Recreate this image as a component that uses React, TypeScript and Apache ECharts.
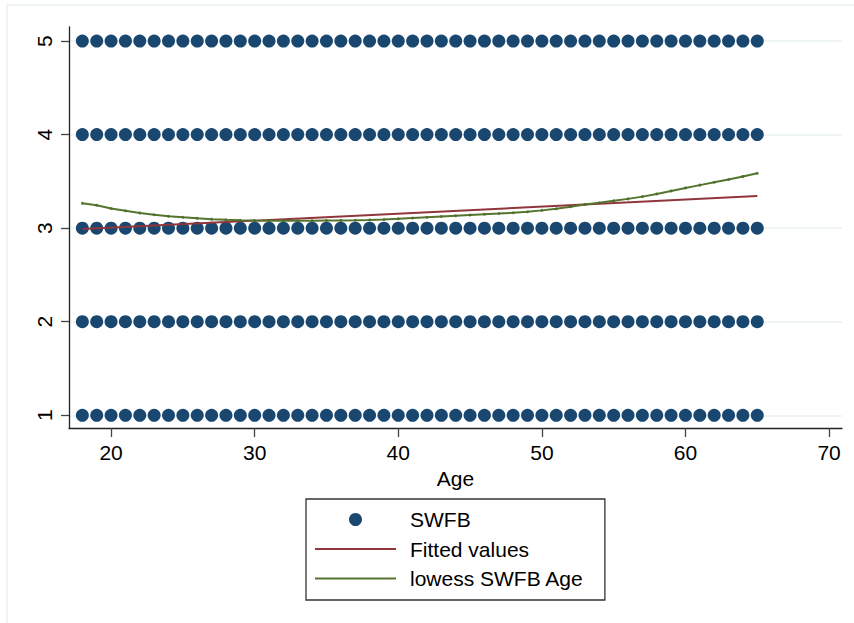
import React, { useEffect, useRef } from "react";
import * as echarts from "echarts";

// Respondent ages observed in the survey (one dot per age and SWFB level)
const ages = [
  18, 19, 20, 21, 22, 23, 24, 25, 26, 27, 28, 29, 30, 31, 32, 33, 34, 35, 36, 37, 38, 39, 40, 41,
  42, 43, 44, 45, 46, 47, 48, 49, 50, 51, 52, 53, 54, 55, 56, 57, 58, 59, 60, 61, 62, 63, 64, 65,
];
// SWFB response levels
const swfbLevels = [1, 2, 3, 4, 5];

// Linear fit endpoints (age, fitted SWFB)
const fittedAges = [18, 65];
const fittedValues = [2.99, 3.343];

// Lowess smooth of SWFB on Age, one value per age
const lowessValues = [
  3.265, 3.244, 3.21, 3.185, 3.163, 3.143, 3.128, 3.116, 3.105, 3.096, 3.089, 3.084, 3.081, 3.079,
  3.078, 3.078, 3.079, 3.081, 3.083, 3.085, 3.088, 3.093, 3.1, 3.108, 3.116, 3.124, 3.132, 3.14,
  3.148, 3.156, 3.165, 3.176, 3.19, 3.208, 3.229, 3.253, 3.272, 3.292, 3.313, 3.337, 3.366, 3.398,
  3.43, 3.46, 3.49, 3.52, 3.553, 3.586,
];

const xTicks = [20, 30, 40, 50, 60, 70];
const yTicks = [1, 2, 3, 4, 5];

const NAVY = "#1a476f";
const MAROON = "#90353b";
const GREEN = "#55752f";
const GRID = "#eaf2f3";
const FONT = "'Liberation Sans', Arial, sans-serif";
// Plain horizontal stroke used as the legend key for the two curves
const LINE_KEY = "path://M0,0 H81 V2 H0 Z";

export default function App() {
  const ref = useRef<HTMLDivElement>(null);

  useEffect(() => {
    if (!ref.current) return;
    const chart = echarts.init(ref.current, undefined, { renderer: "svg" });

    const scatterData: number[][] = [];
    swfbLevels.forEach((lv) => ages.forEach((a) => scatterData.push([a, lv])));
    const fittedData = fittedAges.map((a, i) => [a, fittedValues[i]]);
    const lowessData = ages.map((a, i) => [a, lowessValues[i]]);

    chart.setOption({
      animation: false,
      backgroundColor: "#ffffff",
      textStyle: { fontFamily: FONT },
      grid: { left: 69, top: 27, width: 773, height: 401, containLabel: false },
      xAxis: {
        type: "value",
        min: 17.07,
        max: 70.9,
        name: "Age",
        nameLocation: "middle",
        nameGap: 35,
        nameTextStyle: { fontFamily: FONT, fontSize: 21, color: "#000" },
        axisLine: { show: true, onZero: false, lineStyle: { color: "#222", width: 1.3 } },
        axisTick: {
          show: true,
          length: 9,
          customValues: xTicks,
          lineStyle: { color: "#444", width: 1.3 },
        },
        axisLabel: {
          customValues: xTicks,
          margin: 14,
          fontFamily: FONT,
          fontSize: 21,
          color: "#000",
        },
        splitLine: { show: false },
      },
      yAxis: {
        type: "value",
        min: 0.864,
        max: 5.15,
        axisLine: { show: true, onZero: false, lineStyle: { color: "#222", width: 1.3 } },
        axisTick: {
          show: true,
          length: 8,
          customValues: yTicks,
          lineStyle: { color: "#444", width: 1.3 },
        },
        axisLabel: {
          customValues: yTicks,
          rotate: 90,
          margin: 14,
          fontFamily: FONT,
          fontSize: 21,
          color: "#000",
        },
        splitLine: { show: true, lineStyle: { color: GRID, width: 1.5 } },
      },
      legend: {
        data: [
          { name: "SWFB", icon: "circle" },
          { name: "Fitted values", icon: LINE_KEY },
          { name: "lowess SWFB Age", icon: LINE_KEY },
        ],
        orient: "vertical",
        left: 306,
        top: 499,
        padding: [10, 21, 11, 9],
        itemWidth: 81,
        itemHeight: 13,
        itemGap: 8.5,
        borderColor: "#333",
        borderWidth: 1.3,
        borderRadius: 0,
        selectedMode: false,
        textStyle: {
          fontFamily: FONT,
          fontSize: 21,
          color: "#000",
          lineHeight: 20,
          padding: [0, 0, 0, 9],
        },
      },
      graphic: [
        {
          type: "rect",
          silent: true,
          z: -10,
          shape: { x: 7, y: 5, width: 900, height: 700 },
          style: { fill: "none", stroke: "#eef3f3", lineWidth: 2 },
        },
      ],
      series: [
        {
          name: "SWFB",
          type: "scatter",
          data: scatterData,
          symbol: "circle",
          symbolSize: 13,
          itemStyle: { color: NAVY, opacity: 1 },
          z: 2,
        },
        {
          name: "Fitted values",
          type: "line",
          data: fittedData,
          showSymbol: false,
          symbol: "none",
          lineStyle: { color: MAROON, width: 2 },
          itemStyle: { color: MAROON },
          z: 3,
        },
        {
          name: "lowess SWFB Age",
          type: "line",
          data: lowessData,
          showSymbol: false,
          symbol: "none",
          lineStyle: { color: GREEN, width: 2 },
          itemStyle: { color: GREEN },
          z: 4,
        },
        {
          name: "lowess points",
          type: "scatter",
          data: lowessData,
          symbol: "circle",
          symbolSize: 3,
          itemStyle: { color: "#4a6a28" },
          z: 5,
          silent: true,
        },
      ],
    });

    return () => chart.dispose();
  }, []);

  return (
    <div
      ref={ref}
      style={{ position: "fixed", left: 0, top: 0, width: 854, height: 623, background: "#fff" }}
    />
  );
}
